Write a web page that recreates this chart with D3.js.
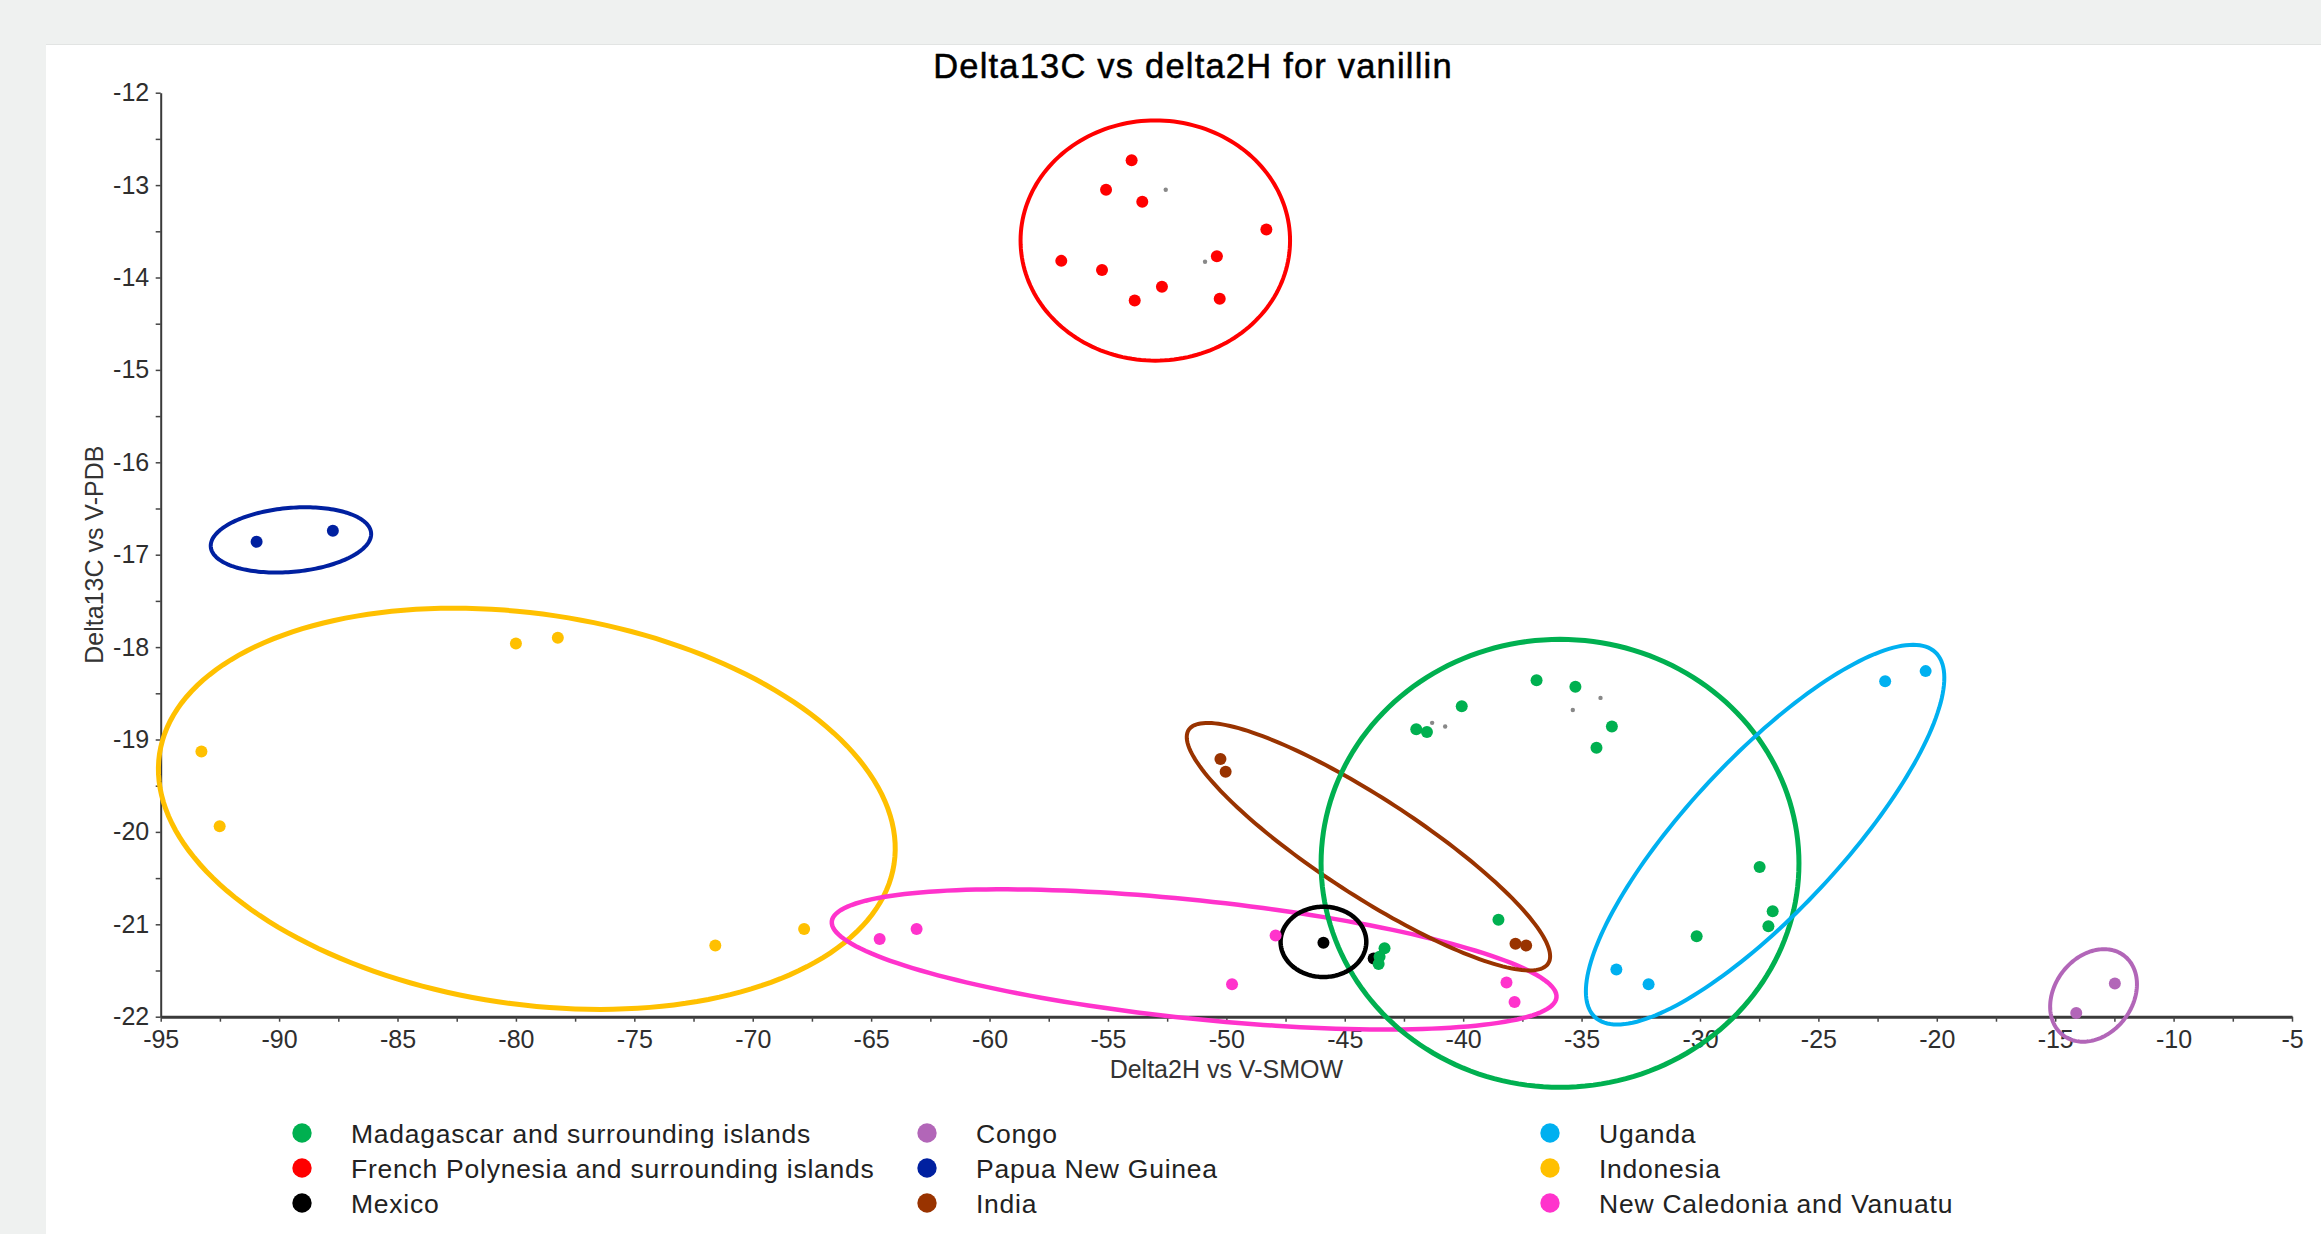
<!DOCTYPE html>
<html>
<head>
<meta charset="utf-8">
<script src="https://cdn.jsdelivr.net/npm/d3@7/dist/d3.min.js"></script>
<style>
  html, body { margin: 0; padding: 0; background: #eff1f0; overflow: hidden; }
  svg { display: block; }
  text { font-family: "Liberation Sans", Arial, Helvetica, sans-serif; }
</style>
</head>
<body>
<svg id="chart" width="2321" height="1234"></svg>
<script>

// legend order, column by column
var groupNames = [
	'Madagascar and surrounding islands', 'French Polynesia and surrounding islands', 'Mexico',
	'Congo', 'Papua New Guinea', 'India',
	'Uganda', 'Indonesia', 'New Caledonia and Vanuatu'
];
var groupColors = ['#00b050', '#ff0000', '#000000', '#b266b8', '#0020a0', '#993300', '#00b0f0', '#ffc000', '#ff33cc'];

// [delta2H, delta13C]
var madagascar = [[-36.90, -18.36], [-35.26, -18.43], [-40.06, -18.64], [-41.98, -18.89], [-41.53, -18.92],
	[-33.72, -18.86], [-34.37, -19.09], [-27.48, -20.38], [-26.93, -20.86], [-27.11, -21.02],
	[-30.14, -21.13], [-38.51, -20.95], [-43.32, -21.26], [-43.53, -21.35], [-43.57, -21.43]];
var frenchPolynesia = [[-54.0, -12.73], [-55.08, -13.05], [-53.55, -13.18], [-48.31, -13.48], [-56.97, -13.82],
	[-50.40, -13.77], [-55.25, -13.92], [-52.72, -14.10], [-53.87, -14.25], [-50.28, -14.23]];
var mexico = [[-45.9, -21.20], [-43.78, -21.37]];
var congo = [[-12.48, -21.64], [-14.11, -21.96]];
var papuaNewGuinea = [[-90.95, -16.86], [-87.73, -16.74]];
var india = [[-50.25, -19.21], [-50.03, -19.35], [-37.79, -21.21], [-37.34, -21.23]];
var uganda = [[-22.18, -18.37], [-20.47, -18.26], [-33.53, -21.49], [-32.17, -21.65]];
var indonesia = [[-93.28, -19.13], [-92.51, -19.94], [-80.0, -17.96], [-78.23, -17.90], [-71.58, -21.23], [-67.83, -21.05]];
var newCaledonia = [[-64.64, -21.16], [-63.08, -21.05], [-47.92, -21.12], [-49.76, -21.65], [-38.17, -21.63], [-37.83, -21.84]];
var groupPoints = [madagascar, frenchPolynesia, mexico, congo, papuaNewGuinea, india, uganda, indonesia, newCaledonia];

// small grey marks inside the clusters
var minorPoints = [[-52.56, -13.05], [-50.90, -13.83], [-41.31, -18.82], [-40.76, -18.86], [-35.37, -18.68], [-34.20, -18.55]];

// group ellipses: centre and two conjugate half axes, all in data units
var ellipseGroups = [7, 8, 5, 0, 6, 2, 1, 4, 3];
var ellipseCentres = [[-35.91, -20.34], [-53.0, -13.6], [-45.9, -21.19], [-13.38, -21.77], [-89.5, -16.84],
	[-44.0, -20.16], [-27.25, -20.03], [-79.54, -19.75], [-51.36, -21.38]];
var ellipseAxisU = [[10.09, 0], [5.69, 0], [1.81, 0], [1.296, 0.429], [3.385, 0.076],
	[7.590, -1.264], [7.185, 1.975], [15.51, -0.594], [15.30, -0.412]];
var ellipseAxisV = [[0, 2.424], [0, 1.30], [0, 0.38], [1.296, -0.258], [0.118, -0.345],
	[-1.119, -0.442], [2.377, -0.568], [-1.216, -2.088], [-0.262, -0.637]];
var ellipseWidths = [5, 4, 4.5, 4, 4, 4, 4, 5, 4.5];

// order the dots are painted in (green sits on top of the second Mexico dot)
var pointOrder = [2, 1, 3, 4, 5, 7, 8, 0, 6];

var xTicks = d3.range(-95, -4.9, 2.5);
var yTicks = d3.range(-22, -11.9, 0.5);

var svg = d3.select('#chart');
var width = 2321, height = 1234;

// page and panel
svg.append('rect').attr('width', width).attr('height', height).attr('fill', '#eff1f0');
svg.append('rect').attr('x', 46).attr('y', 44).attr('width', width - 46).attr('height', 2).attr('fill', '#e2e4e3');
svg.append('rect').attr('x', 46).attr('y', 45).attr('width', width - 46).attr('height', height - 45).attr('fill', '#ffffff');

var x = d3.scaleLinear().domain([-95, -5]).range([160.7, 2292]);
var y = d3.scaleLinear().domain([-22, -12]).range([1016.7, 92.7]);

// axes
var xAxis = svg.append('g').attr('class', 'x-axis')
	.attr('transform', 'translate(0,' + y(-22) + ')')
	.call(d3.axisBottom(x).tickValues(xTicks).tickSize(5).tickSizeOuter(0).tickPadding(9)
		.tickFormat(function(d) { return d % 5 === 0 ? d : ''; }));

var yAxis = svg.append('g').attr('class', 'y-axis')
	.attr('transform', 'translate(' + x(-95) + ',0)')
	.call(d3.axisLeft(y).tickValues(yTicks).tickSize(5).tickSizeOuter(0).tickPadding(6.5)
		.tickFormat(function(d) { return d % 1 === 0 ? d : ''; }));

[xAxis, yAxis].forEach(function(g) {
	g.attr('font-size', null).attr('font-family', null);
	g.selectAll('text').attr('font-size', 25).attr('fill', '#2e2e2e');
	g.selectAll('line').attr('stroke', '#444444').attr('stroke-width', 1.5);
});
xAxis.select('.domain').attr('stroke', '#3a3a3a').attr('stroke-width', 3);
yAxis.select('.domain').attr('stroke', '#3a3a3a').attr('stroke-width', 2);

// titles
svg.append('text').attr('x', 1193).attr('y', 78).attr('text-anchor', 'middle')
	.attr('font-size', 34.5).attr('letter-spacing', '1.2px').attr('fill', '#000')
	.attr('stroke', '#000').attr('stroke-width', 0.5)
	.text('Delta13C vs delta2H for vanillin');

svg.append('text').attr('x', (x(-95) + x(-5)) / 2).attr('y', 1078).attr('text-anchor', 'middle')
	.attr('font-size', 25).attr('fill', '#333333').text('Delta2H vs V-SMOW');

svg.append('text').attr('transform', 'translate(103,' + (y(-22) + y(-12)) / 2 + ') rotate(-90)')
	.attr('text-anchor', 'middle').attr('font-size', 25).attr('fill', '#333333').text('Delta13C vs V-PDB');

// ellipses
var angles = d3.range(0, 2 * Math.PI, Math.PI / 90);
var ellipseLine = d3.line()
	.x(function(d) { return x(d[0]); })
	.y(function(d) { return y(d[1]); })
	.curve(d3.curveLinearClosed);

ellipseGroups.forEach(function(gi) {
	var c = ellipseCentres[gi], u = ellipseAxisU[gi], v = ellipseAxisV[gi];
	var pts = angles.map(function(t) {
		return [c[0] + u[0] * Math.cos(t) + v[0] * Math.sin(t), c[1] + u[1] * Math.cos(t) + v[1] * Math.sin(t)];
	});
	svg.append('path').attr('d', ellipseLine(pts))
		.attr('fill', 'none').attr('stroke', groupColors[gi]).attr('stroke-width', ellipseWidths[gi]);
});

// points
svg.append('g').selectAll('circle').data(minorPoints).enter().append('circle')
	.attr('cx', function(d) { return x(d[0]); })
	.attr('cy', function(d) { return y(d[1]); })
	.attr('r', 2.2).attr('fill', '#888888');

pointOrder.forEach(function(gi) {
	svg.append('g').selectAll('circle').data(groupPoints[gi]).enter().append('circle')
		.attr('cx', function(d) { return x(d[0]); })
		.attr('cy', function(d) { return y(d[1]); })
		.attr('r', 6).attr('fill', groupColors[gi]);
});

// legend, three columns of three
var legendColX = [302, 927, 1550];
var legend = svg.append('g').attr('class', 'legend');
groupNames.forEach(function(name, i) {
	var cx = legendColX[Math.floor(i / 3)];
	var cy = 1133 + (i % 3) * 35;
	legend.append('circle').attr('cx', cx).attr('cy', cy).attr('r', 9.7).attr('fill', groupColors[i]);
	legend.append('text').attr('x', cx + 49).attr('y', cy).attr('dy', '0.36em')
		.attr('font-size', 26.5).attr('letter-spacing', '0.75px').attr('fill', '#222222').text(name);
});

</script>
</body>
</html>
